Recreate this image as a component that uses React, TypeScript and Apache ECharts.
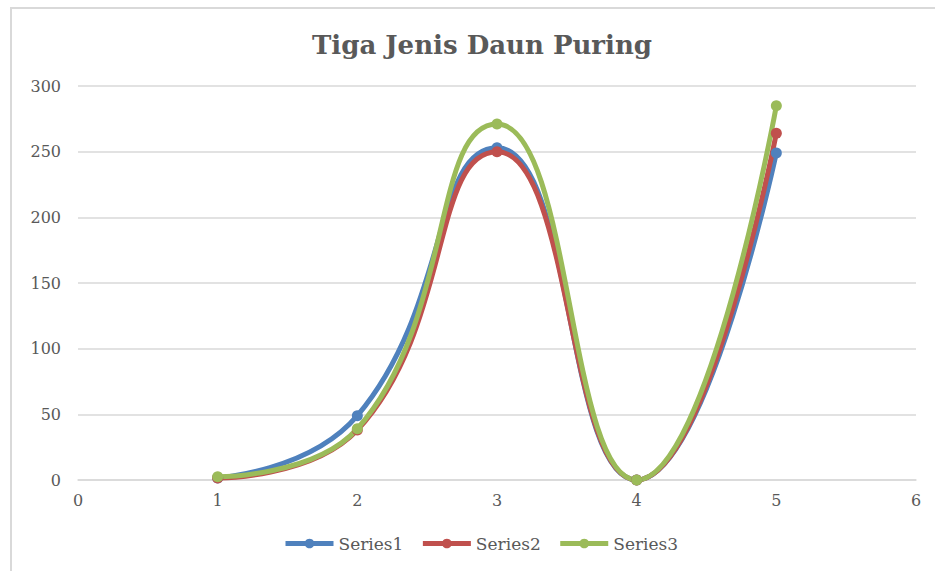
import React, { useEffect, useRef } from "react";
import * as echarts from "echarts";

const xValues = [1, 2, 3, 4, 5];
const series1 = [1.5, 49, 253, 0, 249];
const series2 = [1.5, 38, 250, 0, 264];
const series3 = [2.5, 39, 271, 0, 285];
const seriesNames = ["Series1", "Series2", "Series3"];
const colors = ["#4f81bd", "#c0504d", "#9bbb59"];

const FONT = "'DejaVu Serif', serif";

export default function App() {
  const ref = useRef<HTMLDivElement>(null);
  useEffect(() => {
    document.body.style.margin = "0";
    const chart = echarts.init(ref.current!, null, { renderer: "svg" });
    const data = [series1, series2, series3];
    chart.setOption({
      animation: false,
      backgroundColor: "#ffffff",
      title: {
        text: "Tiga Jenis Daun Puring",
        left: 477,
        textAlign: "center",
        top: 27,
        textStyle: { fontFamily: FONT, fontWeight: "bold", fontSize: 26, color: "#595959" },
      },
      graphic: [
        {
          type: "rect",
          shape: { x: 11, y: 8, width: 1000, height: 700 },
          style: { fill: "none", stroke: "#d9d9d9", lineWidth: 2 },
          silent: true,
        },
      ],
      legend: {
        bottom: 14,
        left: 278,
        itemWidth: 48,
        itemHeight: 12,
        itemGap: 17,
        lineStyle: { width: 5 },
        textStyle: { fontFamily: FONT, fontSize: 17, color: "#595959" },
        data: seriesNames,
      },
      grid: { left: 78, right: 19, top: 86, bottom: 91 },
      xAxis: {
        type: "value",
        min: 0,
        max: 6,
        interval: 1,
        axisLine: { lineStyle: { color: "#d9d9d9", width: 1.5 } },
        axisTick: { show: false },
        splitLine: { show: false },
        axisLabel: { fontFamily: FONT, fontSize: 16, color: "#595959", margin: 12 },
      },
      yAxis: {
        type: "value",
        min: 0,
        max: 300,
        interval: 50,
        axisLine: { show: false },
        axisTick: { show: false },
        splitLine: { lineStyle: { color: "#d9d9d9", width: 1.5 } },
        axisLabel: { fontFamily: FONT, fontSize: 16, color: "#595959", margin: 17 },
      },
      series: seriesNames.map((name, i) => ({
        name,
        type: "line",
        smooth: 0.5,
        symbol: "circle",
        symbolSize: 11,
        color: colors[i],
        lineStyle: { width: 5, color: colors[i] },
        itemStyle: { color: colors[i] },
        data: xValues.map((x, j) => [x, data[i][j]]),
      })),
    });
    return () => chart.dispose();
  }, []);
  return <div ref={ref} style={{ width: 935, height: 571 }} />;
}
